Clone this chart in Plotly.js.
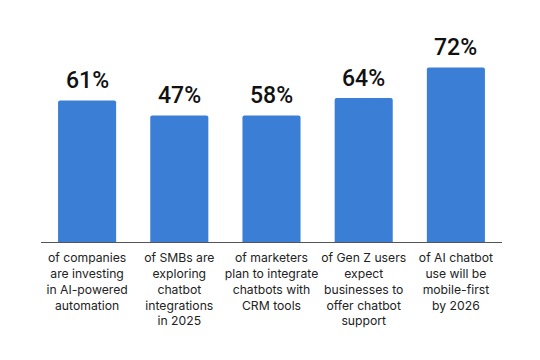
<!DOCTYPE html>
<html>
<head>
<meta charset="utf-8">
<script src="https://cdn.plot.ly/plotly-3.0.1.min.js"></script>
<style>html,body{margin:0;padding:0;background:#fff;}#chart{width:540px;height:360px;}</style>
</head>
<body>
<div id="chart"></div>
<script>
// Category labels (below bars)
const categories = [
  "of companies<br>are investing<br>in AI-powered<br>automation",
  "of SMBs are<br>exploring<br>chatbot<br>integrations<br>in 2025",
  "of marketers<br>plan to integrate<br>chatbots with<br>CRM tools",
  "of Gen Z users<br>expect<br>businesses to<br>offer chatbot<br>support",
  "of AI chatbot<br>use will be<br>mobile-first<br>by 2026"
];
// Stated percentages (value labels)
const values = [61, 47, 58, 64, 72];
// Bar heights as drawn in the picture (not proportional to the labels)
const barHeights = [58.4, 52.2, 52.2, 59.4, 72];

const ids = categories.map((c, i) => "c" + i);

const trace = {
  type: "bar",
  x: ids,
  y: barHeights,
  marker: {color: "#3a7fd5", cornerradius: 2},
  hoverinfo: "skip"
};

const annotations = ids.map((id, i) => ({
  x: id, y: barHeights[i], xref: "x", yref: "y",
  text: values[i] + "%", showarrow: false,
  yanchor: "bottom", yshift: 4,
  font: {family: "Roboto, sans-serif", size: 23, color: "#111", weight: 500}
}));

const layout = {
  width: 540, height: 360,
  margin: {l: 41, r: 38, t: 48, b: 118},
  paper_bgcolor: "#ffffff", plot_bgcolor: "#ffffff",
  bargap: 0.37,
  showlegend: false,
  xaxis: {
    type: "category",
    tickvals: ids, ticktext: categories,
    showline: true, linecolor: "#555", linewidth: 1.3,
    showgrid: false, zeroline: false, ticks: "",
    ticklabelstandoff: 4,
    tickfont: {family: "Inter, sans-serif", size: 12.2, color: "#222"},
    tickangle: 0
  },
  yaxis: {
    range: [0, 80], visible: false, showgrid: false, zeroline: false
  },
  annotations: annotations
};

Plotly.newPlot("chart", [trace], layout, {displayModeBar: false, staticPlot: true});
</script>
</body>
</html>
